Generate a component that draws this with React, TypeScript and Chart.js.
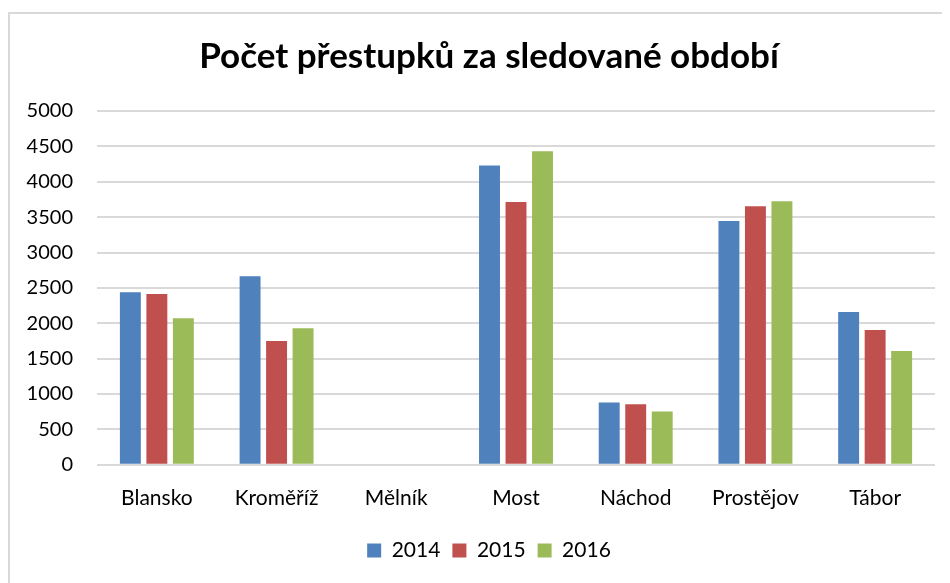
import React, { useEffect, useRef } from "react";
import { Chart, registerables } from "chart.js";

Chart.register(...registerables);

const categories = ["Blansko", "Kroměříž", "Mělník", "Most", "Náchod", "Prostějov", "Tábor"];
const values2014 = [2440, 2665, null, 4230, 882, 3445, 2160];
const values2015 = [2415, 1750, null, 3715, 855, 3655, 1905];
const values2016 = [2070, 1930, null, 4430, 752, 3725, 1610];
const seriesLabels = ["2014", "2015", "2016"];
const colors = ["#4f81bd", "#c0504d", "#9bbb59"];
const FONT = "Lato, 'Open Sans', sans-serif";

export default function App() {
  const ref = useRef<HTMLCanvasElement>(null);
  useEffect(() => {
    if (!ref.current) return;
    const chart = new Chart(ref.current, {
      type: "bar",
      data: {
        labels: categories,
        datasets: [values2014, values2015, values2016].map((d, i) => ({
          label: seriesLabels[i],
          data: d as any,
          backgroundColor: colors[i],
          categoryPercentage: 0.664,
          barPercentage: 0.79,
        })),
      },
      options: {
        animation: false,
        responsive: false,
        layout: { padding: { left: 0, right: 0, top: 0, bottom: 12 } },
        plugins: {
          title: {
            display: true,
            text: "Počet přestupků za sledované období",
            color: "#000",
            font: { family: FONT, size: 35, weight: "bold" },
            padding: { top: 22, bottom: 33 },
          },
          legend: {
            position: "bottom",
            labels: {
              color: "#000",
              font: { family: FONT, size: 21 },
              boxWidth: 14,
              boxHeight: 14,
              padding: 12,
            },
          },
          tooltip: { enabled: false },
        },
        scales: {
          x: {
            grid: { display: false },
            border: { display: false },
            ticks: { color: "#000", font: { family: FONT, size: 21 }, padding: 13 },
            afterFit: (scale: any) => {
              scale.height += 4;
            },
          },
          y: {
            min: 0,
            max: 5000,
            ticks: {
              stepSize: 500,
              color: "#000",
              font: { family: FONT, size: 20 },
              padding: 24,
              callback: (v: any) => String(v),
            },
            grid: { color: "#d9d9d9", lineWidth: 2, drawTicks: false },
            border: { display: false },
            afterFit: (scale: any) => {
              scale.width = 87;
            },
          },
          yRight: {
            position: "right",
            display: true,
            min: 0,
            max: 5000,
            ticks: { display: false },
            grid: { display: false, drawTicks: false },
            border: { display: false },
            afterFit: (scale: any) => {
              scale.width = 33;
            },
          },
        },
      },
    });
    return () => chart.destroy();
  }, []);
  return (
    <div style={{ width: 942, height: 575, overflow: "hidden" }}>
      <div
        style={{
          marginTop: 4,
          width: 960,
          height: 575,
          border: "2px solid #d9d9d9",
          background: "#fff",
        }}
      >
        <canvas ref={ref} width={958} height={569} style={{ display: "block" }} />
      </div>
    </div>
  );
}
